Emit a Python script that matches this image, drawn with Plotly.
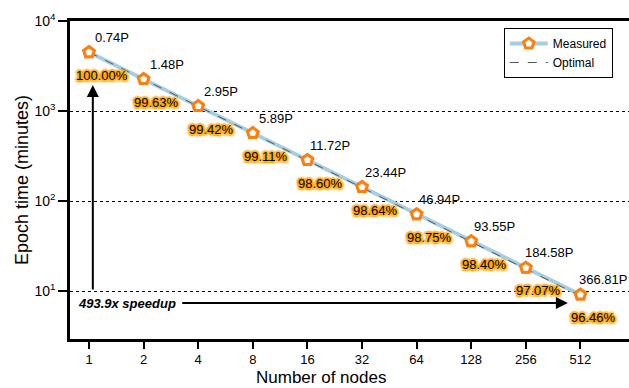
import math
import plotly.graph_objects as go

nodes = [1, 2, 4, 8, 16, 32, 64, 128, 256, 512]
measured_min = [4500, 2258, 1132, 567.5, 285.2, 142.6, 71.2, 35.7, 18.1, 9.11]
optimal_min = [4500, 2250, 1125, 562.5, 281.25, 140.6, 70.3, 35.2, 17.6, 8.79]
pflops = ["0.74P", "1.48P", "2.95P", "5.89P", "11.72P", "23.44P", "46.94P", "93.55P", "184.58P", "366.81P"]
efficiency = ["100.00%", "99.63%", "99.42%", "99.11%", "98.60%", "98.64%", "98.75%", "98.40%", "97.07%", "96.46%"]
speedup_label = "493.9x speedup"
ytick_vals = [10, 100, 1000, 10000]
ytick_text = ["10<sup>1</sup>", "10<sup>2</sup>", "10<sup>3</sup>", "10<sup>4</sup>"]

FONT = "Liberation Sans, Arial, sans-serif"
idx = list(range(len(nodes)))

fig = go.Figure()
fig.add_trace(go.Scatter(
    x=idx, y=measured_min, mode="lines+markers", name="Measured",
    line=dict(color="#a6cee3", width=4),
    marker=dict(symbol="pentagon", size=11, color="white",
                line=dict(color="#ff7f0e", width=3)),
))
fig.add_trace(go.Scatter(
    x=idx, y=optimal_min, mode="lines", name="Optimal",
    line=dict(color="#555555", width=1, dash="dash"),
))
fig.add_trace(go.Scatter(
    x=idx, y=measured_min, mode="markers", showlegend=False,
    marker=dict(symbol="pentagon", size=11, color="white",
                line=dict(color="#ff7f0e", width=3)),
))

glow = ", ".join(f"{dx}px {dy}px 1.5px #ffa500" for dx, dy in
                 [(2, 0), (-2, 0), (0, 2), (0, -2), (1.5, 1.5), (-1.5, -1.5), (1.5, -1.5), (-1.5, 1.5)])

ann = []
for i, (t, p, e) in enumerate(zip(measured_min, pflops, efficiency)):
    ly = math.log10(t)
    ann.append(dict(x=i, y=ly, xref="x", yref="y", text=p, showarrow=False,
                    xshift=23, yshift=15, font=dict(family=FONT, size=13, color="black")))
    ann.append(dict(x=i, y=ly, xref="x", yref="y", text=e, showarrow=False,
                    xshift=13, yshift=-23,
                    font=dict(family=FONT, size=13, color="black", shadow=glow)))

# vertical arrow
ann.append(dict(x=0.07, y=math.log10(1945), xref="x", yref="y",
                ax=0.07, ay=math.log10(10), axref="x", ayref="y",
                showarrow=True, arrowhead=2, arrowsize=1.2, arrowwidth=2, arrowcolor="black", text=""))
# horizontal arrow
ann.append(dict(x=8.77, y=math.log10(7.36), xref="x", yref="y",
                ax=1.68, ay=math.log10(7.36), axref="x", ayref="y",
                showarrow=True, arrowhead=2, arrowsize=1.2, arrowwidth=2, arrowcolor="black", text=""))
ann.append(dict(x=-0.24, y=math.log10(7.36), xref="x", yref="y", text="<b><i>" + speedup_label + "</i></b>",
                showarrow=False, xanchor="left", font=dict(family=FONT, size=13, color="black")))
# x-axis title
ann.append(dict(x=0.449, y=-0.157, xref="paper", yref="paper", text="Number of nodes",
                showarrow=False, xanchor="center", yanchor="bottom",
                font=dict(family=FONT, size=17, color="black")))

fig.update_layout(
    width=629, height=388,
    margin=dict(l=70, r=0, t=21, b=49, autoexpand=False),
    paper_bgcolor="white", plot_bgcolor="white",
    font=dict(family=FONT, size=13, color="black"),
    showlegend=True,
    legend=dict(x=0.776, y=0.978, xanchor="left", yanchor="top",
                bordercolor="black", borderwidth=1, bgcolor="white",
                font=dict(family=FONT, size=12), tracegroupgap=0, itemwidth=38),
    annotations=ann,
)
fig.update_xaxes(
    range=[-0.348, 9.89], tickvals=idx, ticktext=[str(n) for n in nodes],
    showline=True, linecolor="black", linewidth=2.5, mirror=True,
    ticks="outside", ticklen=7, tickwidth=2, tickcolor="black",
    showgrid=False, zeroline=False, ticklabelstandoff=0,
    tickfont=dict(size=13),
)
fig.update_yaxes(
    type="log", range=[0.467, 4], tickvals=ytick_vals, ticktext=ytick_text,
    showline=True, linecolor="black", linewidth=2.5,
    ticks="outside", ticklen=9, tickwidth=2, tickcolor="black",
    showgrid=True, gridcolor="black", griddash="dot", gridwidth=1,
    zeroline=False,
    title=dict(text="Epoch time (minutes)", font=dict(size=18), standoff=2),
    tickfont=dict(size=14),
)

fig.write_html("out.html", post_script="document.body.style.margin='0';",
               config={"displayModeBar": False})
